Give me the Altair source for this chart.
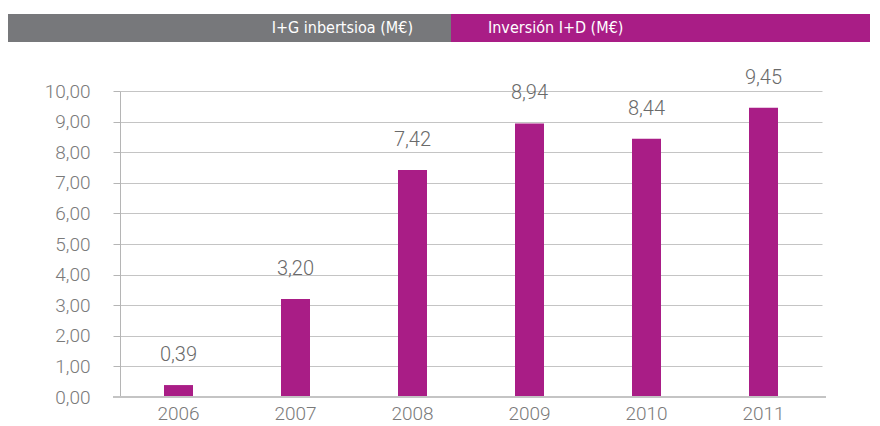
import altair as alt
import pandas as pd

years = ["2006", "2007", "2008", "2009", "2010", "2011"]
values = [0.39, 3.20, 7.42, 8.94, 8.44, 9.45]
labels = ["0,39", "3,20", "7,42", "8,94", "8,44", "9,45"]
y_ticks = [0, 1, 2, 3, 4, 5, 6, 7, 8, 9, 10]
header_left = "I+G inbertsioa (M€)"
header_right = "Inversión I+D (M€)"

MAGENTA = "#A91D86"
GRAY = "#77787B"
FONT = "Roboto"

df = pd.DataFrame({"year": years, "value": values, "label": labels})

x_enc = alt.X("year:N", title=None, sort=years,
              scale=alt.Scale(paddingInner=0.75, paddingOuter=0.375),
              axis=alt.Axis(labelAngle=0, labelFontSize=19, labelColor="#7a7a7a",
                            labelFont=FONT, labelFontWeight=300, labelPadding=7,
                            ticks=False, domain=False, grid=False))
y_enc = alt.Y("value:Q", title=None,
              scale=alt.Scale(domain=[0, 10], nice=False),
              axis=alt.Axis(values=y_ticks, tickCount=11, labelFontSize=19,
                            labelColor="#7a7a7a", labelFont=FONT, labelFontWeight=300,
                            labelOverlap=False, labelFlush=False,
                            labelExpr="replace(format(datum.value, '.2f'), '.', ',')",
                            tickSize=7, tickColor="#b5b5b5", domainColor="#b5b5b5",
                            gridColor="#c4c4c4", labelPadding=23, grid=True))

bars = alt.Chart(df).mark_bar(color=MAGENTA, width=29).encode(x=x_enc, y=y_enc)

text = alt.Chart(df).mark_text(dy=-30, fontSize=20, color="#6a6a6a", font=FONT,
                               fontWeight=300).encode(
    x=x_enc, y=y_enc, text="label:N")

base_rule = alt.Chart(df).mark_rule(color="#c4c4c4", strokeWidth=2).encode(
    x=alt.value(-7), x2=alt.value(706), y=alt.value(306))

hdr_gray = alt.Chart(df).mark_rect(color=GRAY).encode(
    x=alt.value(-112), x2=alt.value(331), y=alt.value(-77), y2=alt.value(-49))
hdr_mag = alt.Chart(df).mark_rect(color=MAGENTA).encode(
    x=alt.value(331), x2=alt.value(750), y=alt.value(-77), y2=alt.value(-49))
HFONT = "DejaVu Sans Condensed, Roboto Condensed, Roboto"
hdr_t1 = alt.Chart(pd.DataFrame({"t": [header_left]})).mark_text(
    align="right", baseline="middle", color="white", fontSize=16,
    font=HFONT).encode(x=alt.value(293), y=alt.value(-63), text="t:N")
hdr_t2 = alt.Chart(pd.DataFrame({"t": [header_right]})).mark_text(
    align="left", baseline="middle", color="white", fontSize=16,
    font=HFONT).encode(x=alt.value(368), y=alt.value(-63), text="t:N")

chart = alt.layer(bars, base_rule, text, hdr_gray, hdr_mag, hdr_t1, hdr_t2).properties(
    width=702, height=306,
    autosize=alt.AutoSizeParams(type="none"),
    padding={"left": 112, "top": 83, "right": 50, "bottom": 30},
).configure_view(stroke=None)

chart.save("out.html", embed_options={"renderer": "svg", "actions": False})
